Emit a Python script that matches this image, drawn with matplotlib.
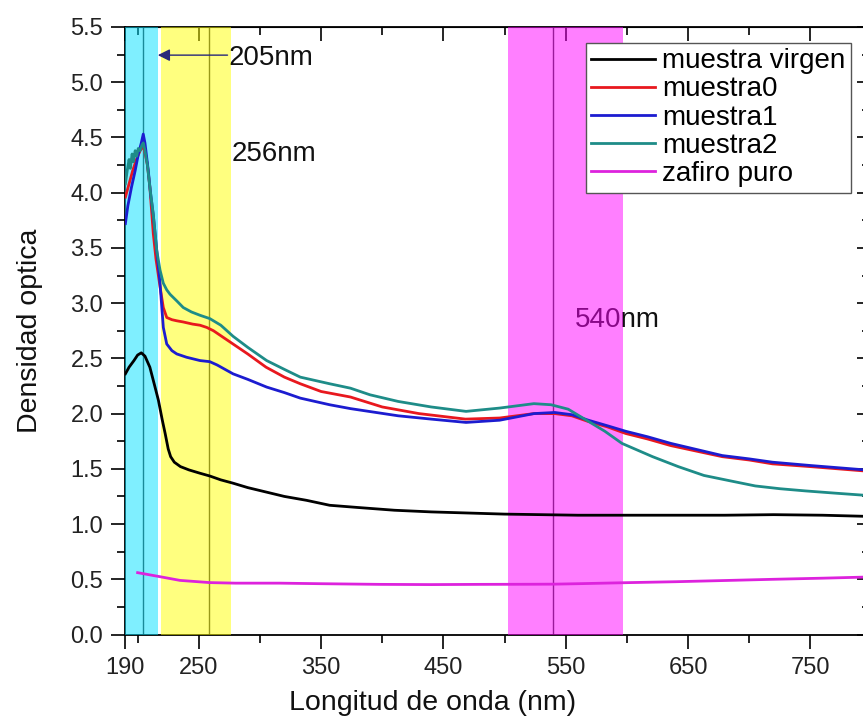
"""Optical density spectra of sapphire samples with marked absorption bands."""

import matplotlib

matplotlib.use("Agg")
import matplotlib.pyplot as plt
from matplotlib.ticker import FixedLocator, MultipleLocator

plt.rcParams["font.family"] = ["Liberation Sans", "DejaVu Sans"]

# --- data (wavelength in nm, optical density) ---
virgen_x = [190, 193, 197, 200, 203, 206, 210, 214, 217, 220, 222.5, 225, 227, 230,
            235, 242, 251, 259, 268, 278, 290, 305, 320, 338, 357, 380, 410, 440,
            470, 500, 530, 560, 600, 640, 680, 720, 760, 795]
virgen_y = [2.36, 2.42, 2.48, 2.53, 2.55, 2.52, 2.42, 2.25, 2.12, 1.95, 1.82, 1.68,
            1.61, 1.56, 1.52, 1.49, 1.46, 1.435, 1.40, 1.37, 1.33, 1.29, 1.25, 1.215,
            1.17, 1.15, 1.125, 1.11, 1.10, 1.09, 1.085, 1.08, 1.08, 1.08, 1.08, 1.085,
            1.08, 1.07]

m0_x = [190, 193, 196, 199, 202, 205, 208, 210, 212.8, 215, 218.3, 221, 223.8, 228,
        232, 237, 245, 251, 256.5, 262, 270, 278, 290, 305, 320, 333, 350, 374, 400,
        430, 468, 496, 524, 541, 555, 568, 584, 599, 617, 636, 657, 678, 700, 719,
        750, 795]
m0_y = [3.96, 4.08, 4.2, 4.3, 4.38, 4.42, 4.25, 4.05, 3.63, 3.4, 3.15, 2.96, 2.87,
        2.85, 2.84, 2.83, 2.81, 2.80, 2.78, 2.75, 2.69, 2.63, 2.54, 2.42, 2.33, 2.27,
        2.20, 2.15, 2.06, 2.00, 1.95, 1.96, 2.00, 2.00, 1.98, 1.93, 1.88, 1.82, 1.77,
        1.71, 1.66, 1.61, 1.58, 1.545, 1.52, 1.48]

m1_x = [190, 192, 195, 198, 200.6, 203, 204.6, 206, 208.7, 210.5, 212.8, 215.6,
        218.3, 221, 223.8, 228, 232, 240, 251, 259, 265, 278, 290, 305.5, 320, 333,
        357, 374, 413, 440, 468.5, 496, 524, 541, 555, 568.5, 584, 599, 617, 636,
        657, 678, 700, 719, 750, 795]
m1_y = [3.72, 3.88, 4.05, 4.2, 4.35, 4.45, 4.53, 4.45, 4.2, 4.0, 3.8, 3.48, 3.18,
        2.78, 2.63, 2.57, 2.54, 2.51, 2.48, 2.47, 2.44, 2.36, 2.31, 2.24, 2.19, 2.14,
        2.08, 2.045, 1.98, 1.95, 1.92, 1.94, 2.00, 2.01, 1.99, 1.94, 1.89, 1.84,
        1.79, 1.73, 1.675, 1.62, 1.59, 1.56, 1.53, 1.49]

m2_x = [190, 191.5, 193, 194, 195.5, 196.5, 198, 199.2, 200.5, 202, 203.5, 204.6,
        206, 208, 210, 212.8, 215.6, 218.3, 221, 223.8, 226.5, 232, 237.3, 244, 251,
        259, 268, 278, 290, 305.5, 320, 333, 357, 374, 390, 413, 440, 468.5, 496,
        510, 524, 538, 552, 568.5, 582, 596, 621, 642, 663, 685, 705, 725, 746, 770,
        795]
m2_y = [4.08, 4.2, 4.3, 4.22, 4.35, 4.28, 4.38, 4.33, 4.40, 4.38, 4.43, 4.45, 4.38,
        4.25, 4.05, 3.8, 3.48, 3.3, 3.18, 3.12, 3.08, 3.02, 2.96, 2.92, 2.89, 2.86,
        2.80, 2.70, 2.60, 2.48, 2.40, 2.33, 2.27, 2.23, 2.17, 2.11, 2.06, 2.02, 2.05,
        2.07, 2.09, 2.08, 2.04, 1.93, 1.84, 1.73, 1.61, 1.52, 1.44, 1.39, 1.345,
        1.32, 1.30, 1.28, 1.26]

zafiro_x = [200, 210, 220, 234.6, 259, 280, 316, 350, 398, 440, 480, 520, 541, 560,
            602.5, 640, 684, 720, 760, 795]
zafiro_y = [0.56, 0.54, 0.52, 0.49, 0.47, 0.465, 0.465, 0.46, 0.454, 0.452, 0.454,
            0.455, 0.456, 0.46, 0.47, 0.478, 0.49, 0.50, 0.51, 0.52]

series_labels = ["muestra virgen", "muestra0", "muestra1", "muestra2", "zafiro puro"]
series_colors = ["#000000", "#e8181e", "#1c1cd0", "#1e8c88", "#dd22dd"]

# marked bands: (start, end, line position, colour)
bands = [(190, 216.5, 204, "#00e0ff"),
         (219, 276.3, 258, "#ffff00"),
         (503, 596.5, 539.5, "#ff00ff")]
band_texts = [("205nm", 274.7, 5.155), ("256nm", 277.2, 4.29), ("540nm", 557.6, 2.78)]

x_major = [190, 250, 350, 450, 550, 650, 750]

fig = plt.figure(figsize=(8.63, 7.19), dpi=100)
ax = fig.add_axes([0.1453, 0.1175, 0.8603, 0.845])

for start, end, pos, color in bands:
    ax.axvspan(start, end, color=color, alpha=0.5, lw=0, zorder=3)
    ax.axvline(pos, color="black", lw=1.0, alpha=0.8, zorder=2)

for text, tx, ty in band_texts:
    ax.text(tx, ty, text, fontsize=20, color="#111111", ha="left", va="baseline", zorder=2)

ax.annotate("", xy=(216.5, 5.245), xytext=(273.5, 5.245),
            arrowprops=dict(arrowstyle="-|>", color="#28287a", lw=1.0,
                            mutation_scale=18, shrinkA=0, shrinkB=0),
            zorder=5)

for xs, ys, lab, col in zip([virgen_x, m0_x, m1_x, m2_x, zafiro_x],
                            [virgen_y, m0_y, m1_y, m2_y, zafiro_y],
                            series_labels, series_colors):
    ax.plot(xs, ys, color=col, lw=2.0, label=lab, zorder=4)

ax.set_xlim(190, 797)
ax.set_ylim(0, 5.5)
ax.xaxis.set_major_locator(FixedLocator(x_major))
ax.xaxis.set_minor_locator(MultipleLocator(100))
ax.yaxis.set_major_locator(MultipleLocator(0.5))
ax.yaxis.set_minor_locator(MultipleLocator(0.25))
ax.yaxis.set_major_formatter(lambda v, p: f"{v:.1f}")
ax.tick_params(which="major", direction="out", length=10, width=1.2,
               labelsize=17, labelcolor="#222222", pad=6, top=False, right=False)
ax.tick_params(which="minor", direction="out", length=6, width=1.2,
               top=False, right=False)
for sp in ax.spines.values():
    sp.set_linewidth(1.3)

# mirrored ticks pointing inward on top and right
top = ax.secondary_xaxis("top")
top.xaxis.set_major_locator(FixedLocator(x_major))
top.xaxis.set_minor_locator(MultipleLocator(100))
top.tick_params(which="major", direction="in", length=10, width=1.2, labeltop=False)
top.tick_params(which="minor", direction="in", length=6, width=1.2)
right = ax.secondary_yaxis("right")
right.yaxis.set_major_locator(MultipleLocator(0.5))
right.yaxis.set_minor_locator(MultipleLocator(0.25))
right.tick_params(which="major", direction="in", length=8, width=1.2, labelright=False)
right.tick_params(which="minor", direction="in", length=4, width=1.2)

ax.set_xlabel("Longitud de onda (nm)", fontsize=20.5, color="#111111")
ax.set_ylabel("Densidad optica", fontsize=20.5, color="#111111")
ax.xaxis.set_label_coords(0.4137, -0.0914)
ax.yaxis.set_label_coords(-0.111, 0.5)

leg = ax.legend(loc="upper right", bbox_to_anchor=(851 / 863, 1 - 42.7 / 719),
                bbox_transform=fig.transFigure, fontsize=20, frameon=True,
                fancybox=False, framealpha=1, edgecolor="#555555",
                borderpad=0.2, labelspacing=0.08, handlelength=2.3,
                handletextpad=0.25, borderaxespad=0)
leg.get_frame().set_linewidth(1.0)
leg.set_zorder(6)

fig.savefig("out.png", dpi=100)
plt.close(fig)
